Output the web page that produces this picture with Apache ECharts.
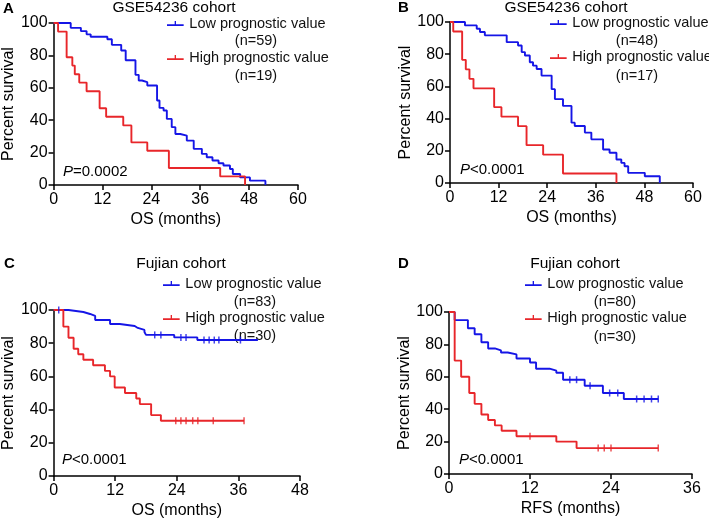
<!DOCTYPE html>
<html>
<head>
<meta charset="utf-8">
<script src="https://cdn.jsdelivr.net/npm/echarts@6/dist/echarts.min.js"></script>
<style>html,body{margin:0;padding:0;background:#fff;}#c{width:709px;height:522px;}</style>
</head>
<body>
<div id="c"></div>
<script>
// ---------- Data ----------
// Panel A: GSE54236 cohort, OS
const aLowT  = [0, 4.2, 6.7, 8.1, 9.1, 13.2, 14.3, 16.6, 17.7, 20.1, 20.9, 21.7, 23.0, 25.4, 26.0, 27.0, 27.8, 29.0, 29.9, 31.1, 32.7, 34.4, 36.4, 37.6, 39.0, 40.5, 41.7, 43.3, 44.0, 45.8, 48.2, 52.0];
const aLowS  = [100, 97, 95, 93, 91.5, 90, 86.5, 83, 77, 68, 64.5, 63.5, 61.4, 52.2, 47.6, 46, 40.8, 35.7, 31.5, 30.5, 27.4, 22.3, 19.2, 17.1, 15.1, 13.4, 12, 9.9, 6.8, 4.7, 2.7, 0];
const aHighT = [0, 1.1, 3.2, 4.6, 5.2, 6.3, 8.1, 11.3, 12.9, 17.1, 19.1, 23.0, 28.3, 40.9, 47.0];
const aHighS = [100, 94.7, 78.9, 73.7, 68.4, 63.2, 57.9, 47.4, 42.1, 36.8, 26.3, 21.1, 10.5, 5.3, 0];
// Panel B: GSE54236 cohort, OS
const bLowT  = [0, 3.7, 6.6, 7.4, 8.6, 14.0, 16.8, 17.7, 18.5, 19.7, 20.5, 21.4, 22.6, 25.1, 25.9, 27.9, 30.0, 30.8, 33.3, 34.9, 37.8, 39.4, 41.1, 42.3, 43.1, 44.0, 48.1, 51.8];
const bLowS  = [100, 97.9, 95.8, 93.8, 91.7, 87.5, 85.4, 81.3, 79.2, 75, 72.9, 70.8, 66.7, 58.3, 52.1, 47.9, 37.5, 35.4, 31.3, 27.1, 20.8, 18.8, 14.6, 12.5, 10.4, 6.3, 4.2, 0];
const bHighT = [0, 0.8, 3.0, 3.9, 4.8, 5.8, 10.9, 12.7, 16.8, 18.9, 23.0, 27.9, 41.1];
const bHighS = [100, 94.1, 76.5, 70.6, 64.7, 58.8, 47.1, 41.2, 35.3, 23.5, 17.6, 5.9, 0];
// Panel C: Fujian cohort, OS
const cLowT  = [0, 2.9, 5.8, 7.1, 8.1, 11.0, 12.9, 15.8, 16.4, 17.7, 18.0, 23.5, 28.0, 39.8];
const cLowS  = [100, 98.8, 97.6, 96.4, 94.0, 91.6, 90.4, 89.2, 88.0, 86.7, 85.0, 83.5, 81.9, 81.9];
const cLowCensT = [1.0, 19.7, 20.9, 24.8, 25.8, 29.3, 30.3, 31.3, 32.2, 36.4];
const cLowCensS = [100, 85.0, 85.0, 83.5, 83.5, 81.9, 81.9, 81.9, 81.9, 81.9];
const cHighT = [0, 1.9, 2.9, 3.9, 4.8, 5.8, 7.7, 10.0, 11.0, 11.9, 13.9, 16.1, 16.8, 19.0, 20.9, 37.1];
const cHighS = [100, 90, 83.3, 76.7, 73.3, 70, 66.7, 63.3, 60, 53.3, 50, 46.7, 43.3, 36.7, 33.3, 33.3];
const cHighCensT = [23.8, 24.8, 25.8, 27.1, 28.1, 31.1, 37.1];
const cHighCensS = [33.3, 33.3, 33.3, 33.3, 33.3, 33.3, 33.3];
// Panel D: Fujian cohort, RFS
const dLowT  = [0, 0.84, 2.8, 3.8, 4.8, 5.8, 6.8, 7.7, 8.7, 10.0, 12.0, 12.9, 14.9, 15.9, 16.9, 20.1, 22.8, 25.9, 31.0];
const dLowS  = [100, 95, 90, 86.3, 81.3, 77.5, 76.3, 75, 73.8, 71.3, 68.8, 65, 63.8, 62.5, 58.2, 54.5, 50, 46.3, 46.3];
const dLowCensT = [17.9, 18.9, 20.9, 23.8, 25.0, 27.8, 28.9, 30.0, 31.0];
const dLowCensS = [58.2, 58.2, 54.5, 50, 50, 46.3, 46.3, 46.3, 46.3];
const dHighT = [0, 0.84, 1.8, 3.0, 3.8, 4.8, 5.8, 6.8, 7.8, 10.0, 15.9, 18.9, 31.0];
const dHighS = [100, 70, 60, 50, 43.3, 36.7, 33.3, 30, 26.7, 23.3, 20, 16, 16];
const dHighCensT = [12.0, 22.1, 23.0, 24.0, 31.0];
const dHighCensS = [23.3, 16, 16, 16, 16];

const xMax = [60, 60, 48, 36];
const xInterval = 12;
const yTicks = [0, 20, 40, 60, 80, 100];
const titles = ['GSE54236 cohort', 'GSE54236 cohort', 'Fujian cohort', 'Fujian cohort'];
const letters = ['A', 'B', 'C', 'D'];
const xNames = ['OS (months)', 'OS (months)', 'OS (months)', 'RFS (months)'];
const pTexts = ['=0.0002', '<0.0001', '<0.0001', '<0.0001'];
const lowN = ['(n=59)', '(n=48)', '(n=83)', '(n=80)'];
const highN = ['(n=19)', '(n=17)', '(n=30)', '(n=30)'];
const lowName = 'Low prognostic value';
const highName = 'High prognostic value';

// ---------- Layout / style ----------
const FONT = '"Liberation Sans", Arial, Helvetica, sans-serif';
const BLUE = '#1515e6';
const RED = '#e8262a';
const grids = [
  {left: 53, top: 23, width: 245, height: 162},
  {left: 450, top: 22, width: 243, height: 161},
  {left: 52, top: 310, width: 248, height: 166},
  {left: 449, top: 312, width: 243, height: 162}
];
const titlePos = [[174, 8], [566, 8], [181, 264], [575, 264]];
const letterPos = [[3, 9], [398, 8], [4, 264], [398, 264]];
const legendPos = [[167, 15], [550, 14], [163, 275], [525, 275]];
const nPos = [[256, 41, 76], [637, 41, 76], [255, 302, 336], [615, 302, 337]];
const pPos = [[63, 172], [460, 170], [62, 460], [459, 460]];

const zip = (t, s) => t.map((v, i) => [v, s[i]]);
const panels = [
  {low: zip(aLowT, aLowS), high: zip(aHighT, aHighS), lc: [], hc: []},
  {low: zip(bLowT, bLowS), high: zip(bHighT, bHighS), lc: [], hc: []},
  {low: zip(cLowT, cLowS), high: zip(cHighT, cHighS), lc: zip(cLowCensT, cLowCensS), hc: zip(cHighCensT, cHighCensS)},
  {low: zip(dLowT, dLowS), high: zip(dHighT, dHighS), lc: zip(dLowCensT, dLowCensS), hc: zip(dHighCensT, dHighCensS)}
];

const axisLine = {show: true, lineStyle: {color: '#000', width: 1.5}};
const axisTick = {show: true, inside: false, length: 5, lineStyle: {color: '#000', width: 1.5}};

const xAxis = [], yAxis = [], series = [], legend = [], graphic = [];
panels.forEach((p, i) => {
  xAxis.push({
    type: 'value', gridIndex: i, min: 0, max: xMax[i], interval: xInterval,
    axisLine, axisTick, splitLine: {show: false},
    axisLabel: {fontSize: 16, color: '#000', fontFamily: FONT, margin: 7},
    name: xNames[i], nameLocation: 'middle', nameGap: 27,
    nameTextStyle: {fontSize: 16, color: '#000', fontFamily: FONT}
  });
  yAxis.push({
    type: 'value', gridIndex: i, min: yTicks[0], max: yTicks[yTicks.length - 1], interval: 20,
    axisLine, axisTick, splitLine: {show: false},
    axisLabel: {fontSize: 16, color: '#000', fontFamily: FONT, margin: 6},
    name: 'Percent survival', nameLocation: 'middle', nameGap: 34, nameRotate: 90,
    nameTextStyle: {fontSize: 16, color: '#000', fontFamily: FONT}
  });
  series.push({
    name: lowName, type: 'line', step: 'end', xAxisIndex: i, yAxisIndex: i,
    data: p.low, showSymbol: false, symbol: 'none', lineStyle: {color: BLUE, width: 1.9},
    itemStyle: {color: BLUE}, z: 3
  });
  series.push({
    name: highName, type: 'line', step: 'end', xAxisIndex: i, yAxisIndex: i,
    data: p.high, showSymbol: false, symbol: 'none', lineStyle: {color: RED, width: 1.9},
    itemStyle: {color: RED}, z: 3
  });
  if (p.lc.length) series.push({
    name: 'low-censored-' + i, type: 'scatter', xAxisIndex: i, yAxisIndex: i,
    data: p.lc, symbol: 'rect', symbolSize: [1.5, 7], itemStyle: {color: BLUE}, z: 4
  });
  if (p.hc.length) series.push({
    name: 'high-censored-' + i, type: 'scatter', xAxisIndex: i, yAxisIndex: i,
    data: p.hc, symbol: 'rect', symbolSize: [1.5, 7], itemStyle: {color: RED}, z: 4
  });
  legend.push({
    data: [lowName, highName], orient: 'vertical', left: legendPos[i][0], top: legendPos[i][1],
    padding: 0, itemGap: 17, itemWidth: 18, itemHeight: 5,
    icon: 'path://M0,6h20v2h-20z M9.2,2h1.6v5h-1.6z', selectedMode: false,
    textStyle: {fontSize: 14.5, color: '#111', fontFamily: FONT, lineHeight: 17}
  });
  graphic.push({type: 'text', x: titlePos[i][0], y: titlePos[i][1],
    style: {text: titles[i], fontSize: 15.5, fontFamily: FONT, fill: '#000', align: 'center', verticalAlign: 'middle'}});
  graphic.push({type: 'text', x: letterPos[i][0], y: letterPos[i][1],
    style: {text: letters[i], fontSize: 15, fontWeight: 'bold', fontFamily: FONT, fill: '#000', align: 'left', verticalAlign: 'middle'}});
  graphic.push({type: 'text', x: nPos[i][0], y: nPos[i][1],
    style: {text: lowN[i], fontSize: 14.5, fontFamily: FONT, fill: '#111', align: 'center', verticalAlign: 'middle'}});
  graphic.push({type: 'text', x: nPos[i][0], y: nPos[i][2],
    style: {text: highN[i], fontSize: 14.5, fontFamily: FONT, fill: '#111', align: 'center', verticalAlign: 'middle'}});
  graphic.push({type: 'text', x: pPos[i][0], y: pPos[i][1],
    style: {text: '{i|P}' + pTexts[i], fontSize: 15, fontFamily: FONT, fill: '#000', align: 'left', verticalAlign: 'middle',
      rich: {i: {fontStyle: 'italic', fontSize: 15, fontFamily: FONT, fill: '#000'}}}});
});

const chart = echarts.init(document.getElementById('c'), null, {renderer: 'canvas'});
chart.setOption({
  animation: false,
  backgroundColor: '#fff',
  grid: grids.map(g => Object.assign({containLabel: false}, g)),
  xAxis, yAxis, series, legend, graphic
});
</script>
</body>
</html>
